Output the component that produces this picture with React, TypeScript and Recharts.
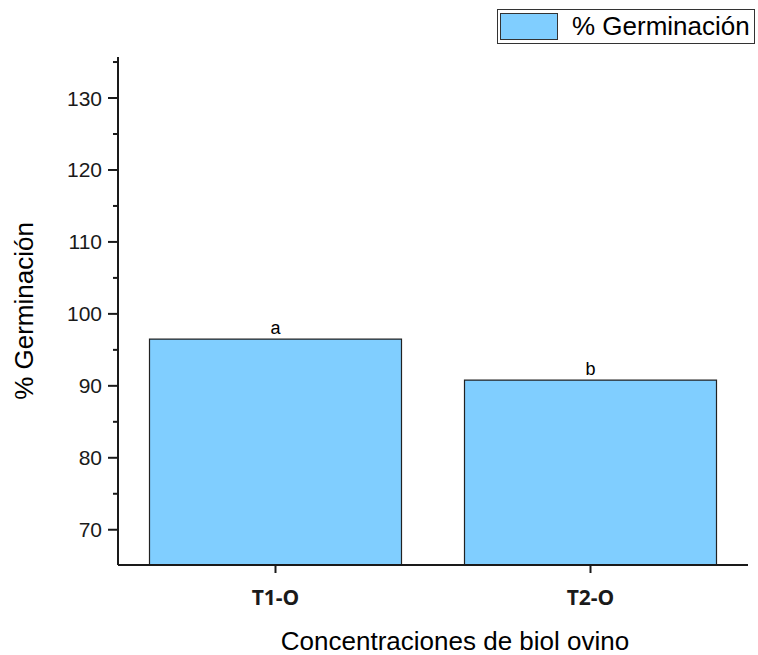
import React from 'react';
import { BarChart, Bar, XAxis, YAxis, LabelList } from 'recharts';

const categories = ['T1-O', 'T2-O'];
const germination = [96.5, 90.8];
const letters = ['a', 'b'];
const yTicks = [70, 75, 80, 85, 90, 95, 100, 105, 110, 115, 120, 125, 130, 135];

const data = categories.map((name, i) => ({
  name,
  value: germination[i],
  letter: letters[i],
}));

const FONT = '"Liberation Sans", Arial, sans-serif';
const INK = '#1a1a1a';
const BAR_FILL = '#80CEFF';
const TICK_LEN = 10;
const TICK_GAP = 6;

function YTick(props: any) {
  const { x, y, payload } = props;
  const major = payload.value % 10 === 0;
  const axisX = x + TICK_GAP + TICK_LEN;
  return (
    <g>
      <line
        x1={axisX - (major ? TICK_LEN : TICK_LEN / 2)}
        x2={axisX}
        y1={y}
        y2={y}
        stroke={INK}
        strokeWidth={2}
      />
      {major && (
        <text x={x} y={y} dy={7.5} textAnchor="end" fontFamily={FONT} fontSize={21} fill={INK}>
          {payload.value}
        </text>
      )}
    </g>
  );
}

function XTick(props: any) {
  const { x, y, payload } = props;
  return (
    <text
      x={x}
      y={y}
      dy={30}
      textAnchor="middle"
      fontFamily='"Open Sans", sans-serif'
      fontWeight={700}
      fontSize={21}
      fill={INK}
    >
      {payload.value}
    </text>
  );
}

function LegendBox() {
  return (
    <div
      style={{
        position: 'absolute',
        left: 497,
        top: 9,
        display: 'flex',
        alignItems: 'center',
        width: 256,
        height: 33,
        border: '1px solid #333',
        background: '#fff',
        boxSizing: 'content-box',
      }}
    >
      <div
        style={{
          width: 56,
          height: 25,
          marginLeft: 2,
          background: BAR_FILL,
          border: '1px solid #333',
        }}
      />
      <span
        style={{
          marginLeft: 14,
          fontFamily: FONT,
          fontSize: 26,
          color: '#000',
          whiteSpace: 'nowrap',
        }}
      >
        % Germinación
      </span>
    </div>
  );
}

export default function App() {
  return (
    <div style={{ position: 'absolute', left: 0, top: 0, width: 758, height: 655, background: '#fff' }}>
      <BarChart
        width={758}
        height={655}
        data={data}
        margin={{ top: 57, right: 10, bottom: 0, left: 18 }}
        barCategoryGap="10%"
      >
        <XAxis
          dataKey="name"
          height={90}
          axisLine={{ stroke: INK, strokeWidth: 2 }}
          tickLine={{ stroke: INK, strokeWidth: 2 }}
          tickSize={8}
          tick={<XTick />}
          label={{
            value: 'Concentraciones de biol ovino',
            position: 'center',
            dx: 22,
            dy: 31,
            fontFamily: FONT,
            fontSize: 26,
            fill: '#000',
          }}
        />
        <YAxis
          type="number"
          width={100}
          domain={[65.1, 135.7]}
          ticks={yTicks}
          interval={0}
          allowDataOverflow
          axisLine={{ stroke: INK, strokeWidth: 2 }}
          tickLine={false}
          tickSize={TICK_LEN}
          tickMargin={TICK_GAP}
          tick={<YTick />}
          label={{
            value: '% Germinación',
            angle: -90,
            position: 'center',
            dx: -44,
            fontFamily: FONT,
            fontSize: 26,
            fill: '#000',
          }}
        />
        <Bar
          dataKey="value"
          name="% Germinación"
          fill={BAR_FILL}
          stroke="#222"
          strokeWidth={1.2}
          isAnimationActive={false}
        >
          <LabelList
            dataKey="letter"
            position="top"
            offset={5}
            fontFamily={FONT}
            fontSize={18}
            fill="#000"
          />
        </Bar>
      </BarChart>
      <LegendBox />
    </div>
  );
}
